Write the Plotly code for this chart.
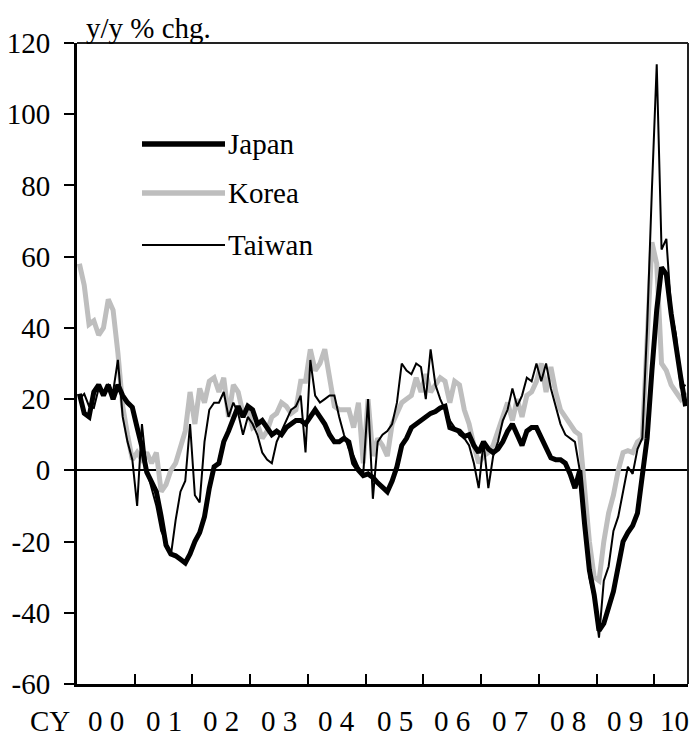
import plotly.graph_objects as go

# monthly y/y % change, Jan 2000 .. Jul 2010 (index 0 = Jan 2000)
japan = [21.5, 16, 15, 22, 24, 21, 24, 20, 24, 21, 19, 17.7,
         12, 6.5, -0.5, -3.5, -6, -13, -21, -23.5, -24, -25, -26, -23.5,
         -20, -17.5, -13, -5, 1, 2, 8, 11, 15, 18, 15, 18,
         17, 13, 14, 12, 10, 11, 10, 12, 13, 14, 14, 13,
         15, 17, 15, 13, 10, 8, 8, 9, 8, 2, 0, -1.5,
         -1, -2, -3.5, -5, -6, -3, 1, 7, 9, 12, 13, 14,
         15, 16, 16.5, 17.5, 18, 12, 11.5, 11, 9.5, 10, 7, 5,
         8, 6, 5, 6, 8, 11, 13, 10, 7, 11, 12, 12,
         9, 6, 3.5, 3, 3, 2, -1, -5, 0, -15, -28, -35,
         -45, -43, -38, -34, -27, -20, -17.5, -15.5, -12, 0, 9, 28,
         45, 57, 55, 44, 34, 26, 18]
korea = [58, 52, 41, 42, 38, 40, 48, 45, 33, 18, 10, 3,
         5, 3, 5, 2, 5, -6, -4, 0, 2, 7, 11, 22,
         13, 23, 19, 25, 26, 22, 26, 15, 24, 22, 16, 17,
         12, 13, 9, 11, 15, 16, 19, 18, 16, 17, 25, 25,
         34, 28, 30, 34, 26, 18, 17, 17, 17, 12, 19, 2,
         20, 4, 9, 7, 4, 13, 16, 19, 20, 21, 26, 22,
         27, 22, 24, 26, 25, 19, 25, 24, 17, 13, 7, 2,
         4, 5, 7, 11, 15, 19, 14, 20, 15, 21, 22, 25,
         30, 22, 29, 22, 17, 15, 13, 11, 10, -5, -20, -30,
         -31, -20, -12, -7, 0, 5, 5.5, 5, 8, 9, 34, 64,
         58, 30, 28, 24, 22, 20, 22]
taiwan = [20, 21.5, 18, 17.5, 23, 22, 24, 22, 31, 15, 8, 3,
          -10, 13, 0, -5, -10, -17, -20, -24, -14, -6, -3, 13,
          -7, -9, 8, 17, 19, 19, 22, 15, 19, 16, 10, 15,
          13, 10, 5, 3, 2, 8, 11, 14, 17, 18, 21, 5,
          31, 21, 19, 20, 21, 21, 15, 10, 6, 4, 0.9, -1,
          20, -8, 8, 10, 11, 13, 19, 30, 28, 27, 30, 29,
          20, 34, 24, 20, 17, 14, 12, 10, 9, 7, 2, -5,
          8, -5, 4, 8, 14, 17, 23, 18, 21, 26, 25, 30,
          25, 30, 23, 18, 13, 10, 9, 8, 0, -13, -30, -36,
          -47, -31, -27, -17, -13, -6, 1, -1, 6, 9, 40, 79,
          114, 62, 65, 45, 38, 23, 24]
months = list(range(len(japan)))
year_labels = ["00", "01", "02", "03", "04", "05", "06", "07", "08", "09", "10"]
y_ticks = [-60, -40, -20, 0, 20, 40, 60, 80, 100, 120]

FONT = "Liberation Serif, Times New Roman, serif"
FS = 29
OFF = 8  # page body margin
PW, PH = 611, 641
L, T = 77 - OFF, 43 - OFF
W, H = 697 - 2 * OFF, 738 - OFF
KOREA_GREY = "#bebebe"


def px_x(px):  # page px -> paper x
    return (px - OFF - L) / PW


def px_y(py):  # page px -> paper y
    return (T + PH - (py - OFF)) / PH


fig = go.Figure()
fig.add_trace(go.Scatter(x=months, y=korea, name="Korea", mode="lines",
                         line=dict(color=KOREA_GREY, width=5)))
fig.add_trace(go.Scatter(x=months, y=japan, name="Japan", mode="lines",
                         line=dict(color="black", width=5)))
fig.add_trace(go.Scatter(x=months, y=taiwan, name="Taiwan", mode="lines",
                         line=dict(color="black", width=2)))

# hand-drawn legend like the original
legend_items = [("Japan", "black", 5.5, 144), ("Korea", KOREA_GREY, 5.5, 193), ("Taiwan", "black", 2, 245)]
for name, col, w, py in legend_items:
    yp = px_y(py)
    fig.add_shape(type="line", xref="paper", yref="paper",
                  x0=px_x(142), x1=px_x(225), y0=yp, y1=yp,
                  line=dict(color=col, width=w))
    fig.add_annotation(text=name, xref="paper", yref="paper", x=px_x(226), y=yp,
                       xanchor="left", yanchor="middle", showarrow=False,
                       font=dict(family=FONT, size=FS, color="black"))

# year labels centred under each year (last, partial year squeezed at the edge)
for k, lab in enumerate(year_labels):
    last = k == len(year_labels) - 1
    fig.add_annotation(text=lab if last else lab[0] + " " + lab[1],
                       x=min(12 * k + 5.5, len(months) - 3.3),
                       xanchor="center", xref="x", yref="paper", y=0,
                       yanchor="middle", yshift=-37, showarrow=False,
                       font=dict(family=FONT, size=FS, color="black"))
fig.add_annotation(text="CY", xref="paper", yref="paper", x=px_x(50), y=0,
                   xanchor="center", yanchor="middle", yshift=-37, showarrow=False,
                   font=dict(family=FONT, size=FS, color="black"))
fig.add_annotation(text="y/y % chg.", xref="paper", yref="paper", x=px_x(84), y=1,
                   xanchor="left", yanchor="bottom", yshift=-3, showarrow=False,
                   font=dict(family=FONT, size=FS, color="black"))

# thinner top/right frame
fig.add_shape(type="line", xref="paper", yref="paper", x0=0, x1=1, y0=1, y1=1,
              line=dict(color="#222", width=2))
fig.add_shape(type="line", xref="paper", yref="paper", x0=1, x1=1, y0=0, y1=1,
              line=dict(color="#222", width=2))

fig.update_xaxes(range=[-0.5, len(months) - 0.5], showgrid=False, zeroline=False,
                 automargin=False,
                 showline=True, linecolor="black", linewidth=3,
                 tickvals=[12 * k - 0.5 for k in range(1, 11)], ticks="inside",
                 ticklen=10, tickwidth=2, tickcolor="black", showticklabels=False)
fig.update_yaxes(range=[-60, 120], showgrid=False, automargin=False,
                 tickvals=y_ticks, ticktext=[str(v) for v in y_ticks],
                 zeroline=True, zerolinecolor="black", zerolinewidth=2,
                 showline=True, linecolor="black", linewidth=3,
                 ticks="outside", ticklen=10, tickwidth=2, tickcolor="black",
                 ticklabelstandoff=8,
                 tickfont=dict(family=FONT, size=FS, color="black"))
fig.update_layout(width=W, height=H, showlegend=False,
                  plot_bgcolor="white", paper_bgcolor="white",
                  margin=dict(l=L, r=W - L - PW, t=T, b=H - T - PH))
fig.write_html("out.html")
